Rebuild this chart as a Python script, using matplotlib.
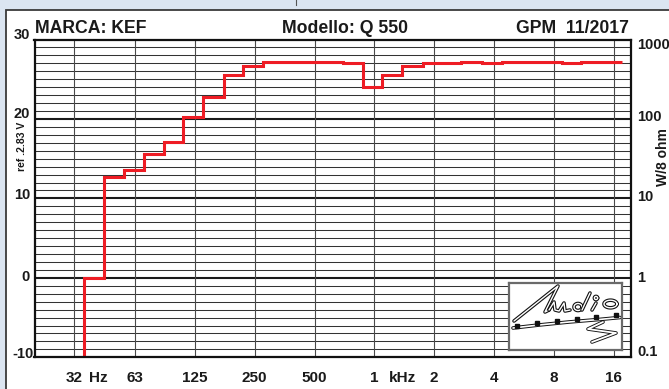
import numpy as np
import matplotlib
matplotlib.use("Agg")
import matplotlib.pyplot as plt
import matplotlib.transforms as mtransforms
import matplotlib.patheffects as pe
from matplotlib.patches import Rectangle

plt.rcParams['font.family'] = ['Liberation Sans', 'DejaVu Sans']

# Third-octave band centres (Hz) and maximum level per band (dB ref 2.83 V)
band_hz = [31.5, 40, 50, 63, 80, 100, 125, 160, 200, 250, 315, 400, 500, 630,
           800, 1000, 1250, 1600, 2000, 2500, 3150, 4000, 5000, 6300, 8000,
           10000, 12500, 16000]
max_level_db = [-15.0, 0.0, 12.65, 13.55, 15.6, 17.05, 20.2, 22.7, 25.5, 26.7,
                27.15, 27.15, 27.15, 27.15, 27.1, 24.0, 25.5, 26.7, 27.1, 27.1,
                27.2, 27.1, 27.2, 27.2, 27.2, 27.1, 27.2, 27.2]

# Octave grid and its labels
grid_hz = [31.5, 64, 128, 256, 512, 1024, 2048, 4096, 8192, 16384]
grid_labels = ['32', '63', '125', '250', '500', '1', '2', '4', '8', '16']
unit_labels = [(42, 'Hz'), (1420, 'kHz')]

# Level axis (left, dB) and power axis (right, W into 8 ohm)
db_ticks = [30, 20, 10, 0, -10]
watt_ticks = [1000, 100, 10, 1, 0.1]
watt_tick_text = ['1000', '100', '10', '1', '0.1']

title_left = 'MARCA: KEF'
title_mid = 'Modello: Q 550'
title_right = 'GPM  11/2017'

W, H = 669, 389
fig = plt.figure(figsize=(W / 100, H / 100), dpi=100, facecolor='#dbe5f1')

# white sheet with a dark edge
fig.patches.append(Rectangle((6 / W, -0.05), 1.0, 1.05 - 10 / H,
                             transform=fig.transFigure, facecolor='white',
                             edgecolor='#3a3a3a', lw=1.3, zorder=-10))
fig.add_artist(plt.Line2D([296 / W, 296 / W], [1 - 5 / H, 1.0],
                          transform=fig.transFigure, color='#555', lw=0.8,
                          zorder=-5))

ax = fig.add_axes([34.5 / W, 1 - 357.3 / H, (631 - 34.5) / W, (357.3 - 39.5) / H])
ax.set_xscale('log')
ax.set_xlim(20, 20000)
ax.set_ylim(-10, 30)
ax.set_facecolor('white')
ax.tick_params(left=False, bottom=False, labelleft=False, labelbottom=False,
               which='both')
ax.minorticks_off()
for sp in ax.spines.values():
    sp.set_linewidth(1.6)
    sp.set_color('#111')
    sp.set_zorder(5)

# horizontal 1 dB grid, heavier every 10 dB
for v in range(-9, 30):
    if v % 10 == 0:
        ax.axhline(v, color='#1a1a1a', lw=1.5, zorder=1)
    else:
        ax.axhline(v, color='#333333', lw=0.75, zorder=1)
for f in grid_hz:
    ax.axvline(f, color='#4a4a4a', lw=0.8, zorder=1)

# band edges between third-octave centres
c = np.array(band_hz, dtype=float)
edges = np.concatenate([[c[0] / 2 ** (1 / 6)], np.sqrt(c[:-1] * c[1:]),
                        [c[-1] * 2 ** (1 / 6)]])
ax.stairs(max_level_db, edges, baseline=None, color='#ee1c24', lw=2.2,
          zorder=4)

# header
fig.text(35 / W, 1 - 33.3 / H, title_left, ha='left', va='baseline',
         fontsize=12.7, weight='bold', color='#1a1a1a')
fig.text(282 / W, 1 - 33.3 / H, title_mid, ha='left', va='baseline',
         fontsize=12.7, weight='bold', color='#1a1a1a')
fig.text(628.5 / W, 1 - 33.3 / H, title_right, ha='right', va='baseline',
         fontsize=12.7, weight='bold', color='#1a1a1a')

# left dB labels
left_tr = mtransforms.blended_transform_factory(fig.transFigure, ax.transData)
left_dy = {30: 4.5, 20: 5, 10: 3.5, 0: 1, -10: 3}
for v in db_ticks:
    xr = 33.3 if v < 0 else 30
    tr = mtransforms.offset_copy(left_tr, fig=fig, y=left_dy[v], units='dots')
    ax.text(xr / W, v, str(v), transform=tr, ha='right', va='center',
            fontsize=10.5, weight='bold', color='#1a1a1a', clip_on=False)

# right power labels
right_dy = {1000: -5.5, 100: 1.5, 10: 1, 1: 0, 0.1: 5}
for w, t in zip(watt_ticks, watt_tick_text):
    tr = mtransforms.offset_copy(left_tr, fig=fig, y=right_dy[w], units='dots')
    ax.text(637 / W, 10 * np.log10(w), t, transform=tr, ha='left',
            va='center', fontsize=10.5, weight='bold', color='#1a1a1a',
            clip_on=False)

# frequency labels
bot_tr = mtransforms.blended_transform_factory(ax.transData, fig.transFigure)
for f, t in zip(grid_hz, grid_labels):
    ax.text(f, 1 - 377.5 / H, t, transform=bot_tr, ha='center', va='center',
            fontsize=11, weight='bold', color='#1a1a1a', clip_on=False)
for f, t in unit_labels:
    ax.text(f, 1 - 377.5 / H, t, transform=bot_tr, ha='center', va='center',
            fontsize=11, weight='bold', color='#1a1a1a', clip_on=False)

fig.text(21.7 / W, 1 - 146 / H, 'ref .2.83 V', rotation=90, ha='center',
         va='center', fontsize=7.5, weight='bold', color='#1a1a1a')
fig.text(663 / W, 1 - 157 / H, 'W/8 ohm', rotation=90, ha='center',
         va='center', fontsize=10, weight='bold', color='#1a1a1a')

# magazine logo box
lg = fig.add_axes([509 / W, 1 - 350 / H, 113 / W, 67 / H])
lg.set_xlim(0, 113)
lg.set_ylim(67, 0)
lg.set_xticks([])
lg.set_yticks([])
lg.set_facecolor('white')
lg.set_zorder(6)
for sp in lg.spines.values():
    sp.set_linewidth(1.6)
    sp.set_color('#6a6a6a')

outline = [pe.Stroke(linewidth=2.6, foreground='#111'), pe.Normal()]


def stroke(pts, lw=1.0):
    xs, ys = zip(*pts)
    lg.plot(xs, ys, color='white', lw=lw, solid_capstyle='round',
            solid_joinstyle='round', path_effects=outline)


stroke([(5, 38), (49, 3), (36, 29), (40, 27)])
stroke([(40, 27), (45, 19), (46, 27), (50, 28), (55, 20), (56, 28), (61, 27)])
t = np.linspace(0, 2 * np.pi, 40)
stroke(list(zip(69 + 4 * np.cos(t), 24 + 3.5 * np.sin(t))))
stroke([(73, 27), (81, 10)])
stroke([(83, 27), (87, 20)])
stroke(list(zip(87 + 1.6 * np.cos(t), 15 + 1.6 * np.sin(t))))
stroke(list(zip(101.5 + 6.5 * np.cos(t), 21 + 3.8 * np.sin(t))))
stroke([(4, 45), (30, 42), (60, 39), (90, 36.5), (111, 34.5)], lw=1.2)
for xm, ym in [(8, 42.5), (28, 40), (48, 37.5), (68, 35.5), (87, 34), (107, 32)]:
    lg.plot([xm], [ym], marker='s', ms=3, color='#111')
stroke([(94, 39), (79, 46), (107, 50), (83, 59)], lw=1.3)

fig.savefig('out.png', dpi=100, facecolor=fig.get_facecolor())
